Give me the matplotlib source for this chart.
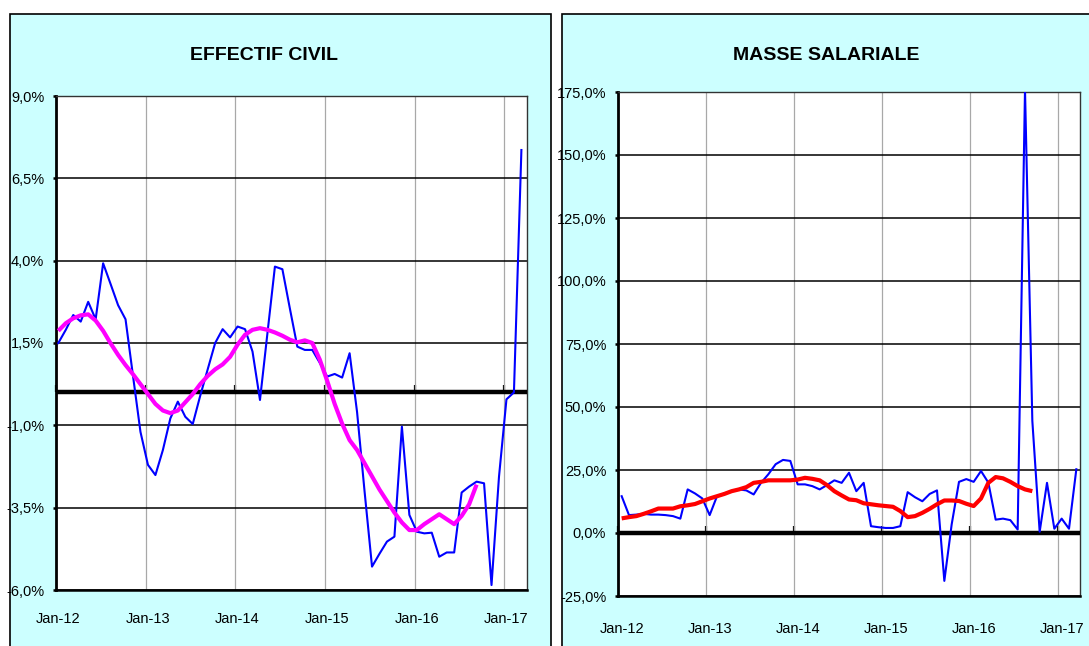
import matplotlib
matplotlib.use("Agg")
import matplotlib.pyplot as plt
from matplotlib.patches import Rectangle
from matplotlib.ticker import FixedLocator, FuncFormatter, NullFormatter
import numpy as np

# monthly data, Jan-12 onwards
year_labels = ["Jan-12", "Jan-13", "Jan-14", "Jan-15", "Jan-16", "Jan-17"]

effectif = [1.5, 1.9, 2.35, 2.15, 2.75, 2.22, 3.92, 3.29, 2.65, 2.22,
            0.5, -1.2, -2.2, -2.51, -1.75, -0.79, -0.28, -0.74, -0.96, -0.1,
            0.7, 1.5, 1.92, 1.67, 2.0, 1.92, 1.24, -0.23, 1.8, 3.82,
            3.74, 2.55, 1.39, 1.29, 1.29, 0.9, 0.48, 0.56, 0.45, 1.19,
            -0.6, -3.0, -5.29, -4.9, -4.53, -4.38, -1.04, -3.72, -4.23, -4.28,
            -4.26, -4.99, -4.86, -4.86, -3.04, -2.86, -2.71, -2.76, -5.85, -2.56,
            -0.21, 0.0, 7.36]
effectif_mm = [1.87, 2.10, 2.25, 2.34, 2.37, 2.18, 1.87, 1.49, 1.14, 0.83,
               0.55, 0.25, -0.05, -0.35, -0.55, -0.63, -0.55, -0.3, -0.05, 0.25,
               0.5, 0.7, 0.85, 1.08, 1.45, 1.75, 1.9, 1.95, 1.9, 1.82,
               1.72, 1.6, 1.52, 1.58, 1.5, 1.0, 0.35, -0.35, -0.95, -1.45,
               -1.75, -2.15, -2.55, -2.95, -3.3, -3.65, -3.95, -4.18, -4.18, -4.0,
               -3.85, -3.7, -3.85, -4.0, -3.75, -3.4, -2.8]

masse = [14.6, 7.1, 7.3, 7.6, 7.3, 7.3, 7.1, 6.7, 5.7, 17.3,
         15.7, 13.7, 7.1, 14.6, 15.7, 16.6, 17.3, 16.9, 15.3, 19.9,
         23.3, 27.3, 29.0, 28.6, 19.3, 19.3, 18.6, 17.3, 19.0, 20.9,
         19.9, 23.9, 16.6, 19.9, 2.7, 2.3, 2.0, 2.0, 2.7, 16.2,
         14.2, 12.6, 15.5, 16.9, -19.0, 3.4, 20.3, 21.4, 20.3, 24.6,
         20.0, 5.3, 5.7, 5.1, 1.4, 176.0, 44.5, 0.5, 19.9, 1.7,
         5.7, 1.7, 25.3]
masse_mm = [5.8, 6.3, 6.7, 7.6, 8.6, 9.7, 9.7, 9.7, 10.6, 11.0,
            11.5, 12.6, 13.7, 14.6, 15.5, 16.6, 17.3, 18.2, 19.9, 20.3,
            20.9, 20.9, 20.9, 20.9, 21.2, 21.9, 21.5, 20.9, 19.0, 16.6,
            14.9, 13.3, 13.0, 11.8, 11.4, 11.0, 10.7, 10.4, 8.7, 6.3,
            6.7, 8.0, 9.6, 11.4, 12.9, 12.9, 12.7, 11.6, 10.7, 13.7,
            19.9, 22.2, 21.7, 20.3, 18.6, 17.3, 16.6]

ticks_left = [-6.0, -3.5, -1.0, 1.5, 4.0, 6.5, 9.0]
ticks_right = [-25.0, 0.0, 25.0, 50.0, 75.0, 100.0, 125.0, 150.0, 175.0]

FONT = ["Liberation Sans", "DejaVu Sans"]
PANEL = "#CCFFFF"

fig = plt.figure(figsize=(10.89, 6.46), dpi=100)

# cyan panels behind each chart
for x0, w in [(10, 541), (562, 540)]:
    fig.patches.append(Rectangle((x0 / 1089, -0.05), w / 1089, 1.05 - 14 / 646,
                                 transform=fig.transFigure, facecolor=PANEL,
                                 edgecolor="black", linewidth=1.2, zorder=-5))


def pct(v, pos):
    return ("%.1f%%" % v).replace(".", ",")


def draw(rect, title, title_x, series, mm, mm_color, yticks, offset, xlim, xpad):
    ax = fig.add_axes(rect, zorder=2)
    ax.set_facecolor("white")
    x = np.arange(len(series))
    xm = np.arange(len(mm))
    jan = np.arange(0, 61, 12)

    ax.axhline(0, color="black", lw=3.2, zorder=3)
    ax.plot(x, series, color="#0000FF", lw=1.5, zorder=4)
    ax.plot(xm, mm, color=mm_color, lw=3.0, zorder=5, solid_capstyle="butt")

    ax.set_ylim(yticks[0], yticks[-1])
    ax.set_xlim(*xlim)
    ax.yaxis.set_major_locator(FixedLocator(yticks))
    ax.yaxis.set_major_formatter(FuncFormatter(pct))
    ax.grid(axis="y", color="black", lw=1.1)

    ax.xaxis.set_major_locator(FixedLocator(jan))
    ax.set_xticklabels(year_labels)
    ax.xaxis.set_minor_locator(FixedLocator(jan - offset))
    ax.xaxis.set_minor_formatter(NullFormatter())
    ax.grid(axis="x", which="minor", color="#A8A8A8", lw=0.9)
    ax.tick_params(axis="x", which="both", length=0, pad=xpad)
    ax.tick_params(axis="y", length=2.5, width=1.8, pad=6, direction="out")
    ax.set_axisbelow(True)

    for lab in ax.get_xticklabels() + ax.get_yticklabels():
        lab.set_family(FONT)
        lab.set_fontsize(10.5)

    ax.spines["left"].set_linewidth(2.0)
    ax.spines["bottom"].set_linewidth(1.8)
    for s in ["top", "right"]:
        ax.spines[s].set_linewidth(1.0)
        ax.spines[s].set_color("#333333")

    # small year marks on the zero line
    frac = (0 - yticks[0]) / (yticks[-1] - yticks[0])
    sec = ax.secondary_xaxis(frac)
    sec.set_xticks(jan - offset)
    sec.set_xticklabels([])
    sec.tick_params(direction="in", length=5, width=1.6, color="black")
    sec.spines["bottom"].set_visible(False)

    fig.text(title_x / 1089, 1 - 55 / 646, title, ha="center", va="center",
             family=FONT, fontsize=14, fontweight="bold")
    return ax


draw([56 / 1089, 1 - 590 / 646, 471 / 1089, 494 / 646], "EFFECTIF CIVIL", 264,
     effectif, effectif_mm, "#FF00FF", ticks_left, 0.31, (-0.31, 62.75), 16)
draw([618 / 1089, 1 - 596 / 646, 462 / 1089, 504 / 646], "MASSE SALARIALE", 826,
     masse, masse_mm, "#FF0000", ticks_right, 0.5, (-0.5, 62.5), 19)

fig.savefig("out.png", dpi=100)
